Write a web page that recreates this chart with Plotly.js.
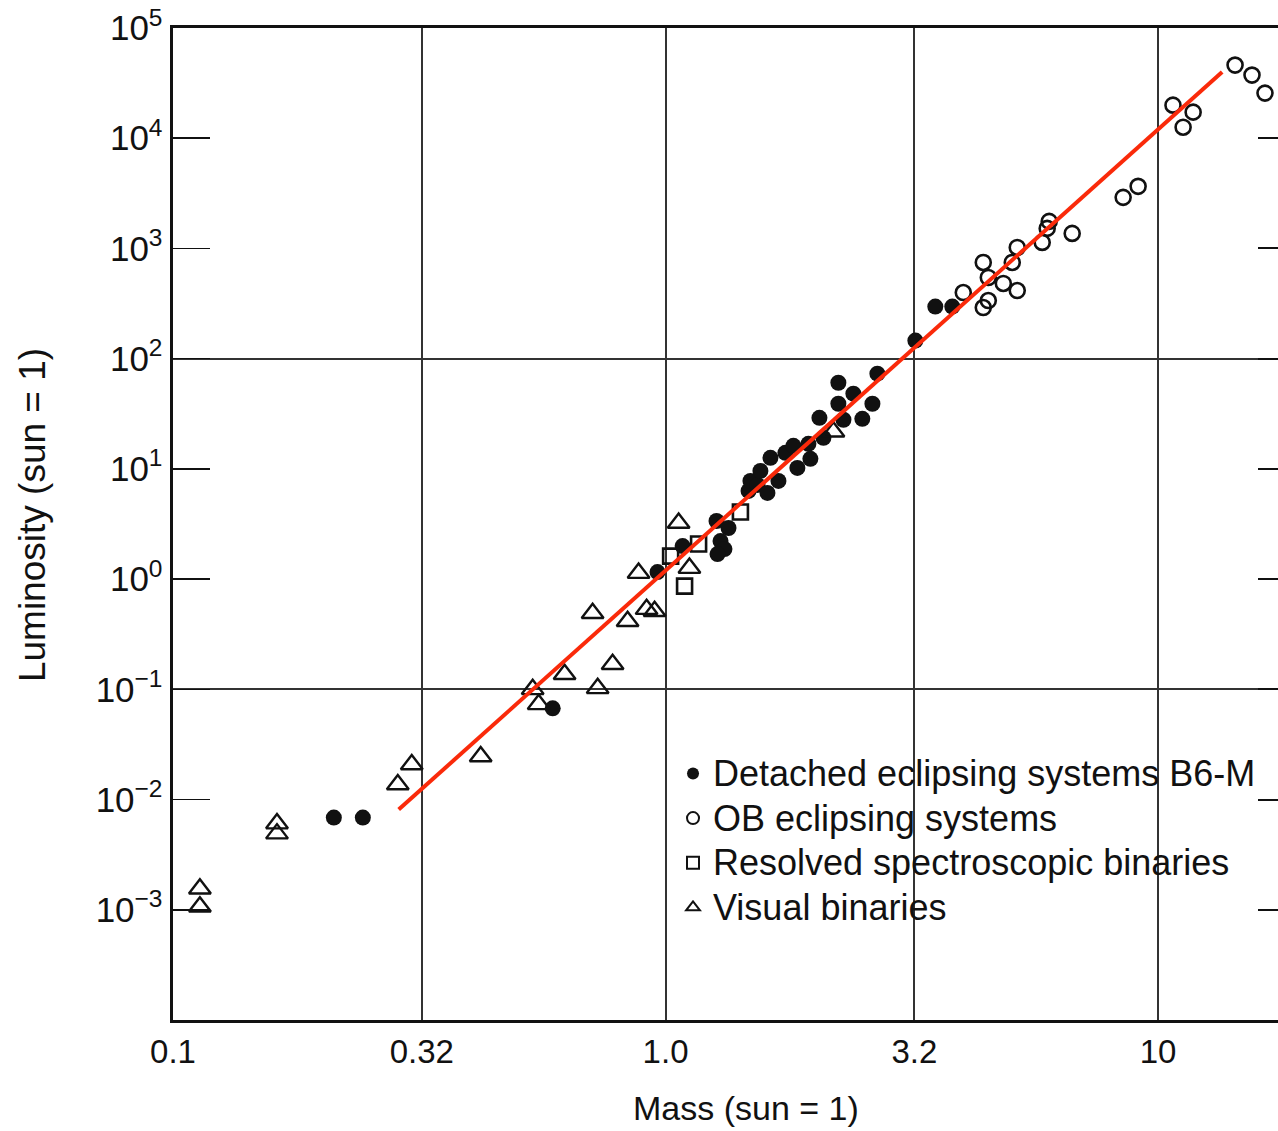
<!DOCTYPE html>
<html>
<head>
<meta charset="utf-8">
<script src="https://cdn.plot.ly/plotly-3.0.1.min.js"></script>
<style>
  html, body { margin: 0; padding: 0; background: #ffffff; overflow: hidden; }
  #chart { width: 1278px; height: 1131px; }
</style>
</head>
<body>
<div id="chart"></div>
<script>
// Mass–luminosity relation for main-sequence stars in binary systems (solar units)

// Detached eclipsing systems, spectral types B6–M
const detachedMass = [0.2121, 0.2429, 0.590, 0.963, 1.083, 1.269, 1.342, 1.293, 1.317, 1.275,
  1.474, 1.487, 1.537, 1.558, 1.633, 1.610, 1.695, 1.751, 1.818, 1.852,
  1.950, 1.968, 2.053, 2.092, 2.243, 2.406, 2.243, 2.630, 2.297, 2.509,
  2.692, 3.215, 3.529, 3.821];
const detachedLum = [0.00686, 0.00686, 0.0672, 1.158, 1.995, 3.365, 2.908, 2.215, 1.874, 1.688,
  6.31, 7.78, 7.15, 9.59, 12.59, 6.05, 7.78, 13.98, 16.19, 10.21,
  16.88, 12.33, 29.08, 19.13, 60.5, 48.1, 38.98, 38.98, 27.9, 28.48,
  73.05, 145.8, 297, 297];

// OB eclipsing systems
const obMass = [4.022, 4.416, 4.521, 4.416, 4.521, 4.850, 5.176, 5.057, 5.176, 5.817,
  5.954, 6.010, 6.692, 8.492, 9.108, 10.72, 11.78, 11.24, 14.33, 15.51, 16.48];
const obLum = [398, 746, 545, 291, 337, 481, 415, 746, 1021, 1134,
  1520, 1760, 1369, 2908, 3660, 19950, 17240, 12590, 46080, 37390, 25660];

// Resolved spectroscopic binaries
const specMass = [1.024, 1.093, 1.167, 1.419];
const specLum = [1.618, 0.864, 2.081, 4.066];

// Visual binaries
const visualMass = [0.1134, 0.1134, 0.1626, 0.1626, 0.2860, 0.3053, 0.4214, 0.5373, 0.5526, 0.6238,
  0.7281, 0.7807, 0.7111, 0.8374, 0.9152, 0.9500, 0.8815, 1.063, 1.118, 2.192];
const visualLum = [0.001552, 0.001065, 0.006053, 0.004909, 0.01369, 0.02081, 0.0246, 0.100, 0.0731, 0.1369,
  0.1021, 0.1688, 0.4908, 0.4150, 0.5337, 0.5117, 1.134, 3.229, 1.259, 21.70];

// Power-law fit (L ∝ M^4) drawn between its two end points
const fitMass = [0.2872, 13.49];
const fitLum = [0.00811, 39810];

// Series names shown in the key
const seriesNames = [
  'Detached eclipsing systems B6-M',
  'OB eclipsing systems',
  'Resolved spectroscopic binaries',
  'Visual binaries'
];

// Axis ticks
const massTicks = [0.1, 0.32, 1.0, 3.2, 10];
const massTickText = ['0.1', '0.32', '1.0', '3.2', '10'];
const lumExponents = [-3, -2, -1, 0, 1, 2, 3, 4, 5];
const lumGridValues = [0.1, 100];

const lumTicks = lumExponents.map(e => Math.pow(10, e));
const lumTickText = lumExponents.map(e => '10<sup>' + (e < 0 ? '\u2212' + (-e) : e) + '</sup>');
const rightTicks = lumTicks.filter(v => v < 1e5);

const FONT = '"Liberation Sans", Arial, "DejaVu Sans", sans-serif';
const INK = '#111111';

// key entries are set a little larger than the row pitch of the key
const keyName = s => '<span style="font-size:36px">' + s + '</span>';

const traces = [
  {
    x: detachedMass, y: detachedLum, type: 'scatter', mode: 'markers',
    name: keyName(seriesNames[0]),
    marker: { symbol: 'circle', size: 16, color: INK, line: { width: 0 } }
  },
  {
    x: obMass, y: obLum, type: 'scatter', mode: 'markers',
    name: keyName(seriesNames[1]),
    marker: { symbol: 'circle-open', size: 15, color: INK, line: { width: 2.6, color: INK } }
  },
  {
    x: specMass, y: specLum, type: 'scatter', mode: 'markers',
    name: keyName(seriesNames[2]),
    marker: { symbol: 'square-open', size: 15, color: INK, line: { width: 2.6, color: INK } }
  },
  {
    x: visualMass, y: visualLum, type: 'scatter', mode: 'markers',
    name: keyName(seriesNames[3]),
    marker: { symbol: 'triangle-up-open', size: 19, color: INK, line: { width: 2.4, color: INK } }
  },
  {
    x: fitMass, y: fitLum, type: 'scatter', mode: 'lines',
    showlegend: false, hoverinfo: 'skip',
    line: { color: '#fa2a0a', width: 4 }
  }
];

const layout = {
  width: 1278,
  height: 1131,
  margin: { l: 173, r: 0, t: 28, b: 111, pad: 0 },
  paper_bgcolor: '#ffffff',
  plot_bgcolor: '#ffffff',
  font: { family: FONT, color: INK },
  showlegend: true,
  legend: {
    x: 0.4525, xanchor: 'left',
    y: 0.276, yanchor: 'top',
    bgcolor: 'rgba(0,0,0,0)',
    borderwidth: 0,
    itemsizing: 'constant',
    font: { family: FONT, size: 32, color: INK },
    tracegroupgap: 0
  },
  xaxis: {
    type: 'log',
    range: [-1, 1.2434],
    tickmode: 'array',
    tickvals: massTicks,
    ticktext: massTickText,
    ticks: '',
    showgrid: true,
    gridcolor: '#333333',
    gridwidth: 2,
    showline: true,
    linecolor: INK,
    linewidth: 3,
    mirror: true,
    zeroline: false,
    tickfont: { family: FONT, size: 33, color: INK },
    ticklabelstandoff: 0
  },
  yaxis: {
    type: 'log',
    range: [-4, 5],
    tickmode: 'array',
    tickvals: lumTicks,
    ticktext: lumTickText,
    ticks: 'inside',
    ticklen: 37,
    tickwidth: 1.6,
    tickcolor: INK,
    showgrid: false,
    showline: true,
    linecolor: INK,
    linewidth: 3.5,
    zeroline: false,
    tickfont: { family: FONT, size: 35, color: INK }
  },
  yaxis2: {
    type: 'log',
    range: [-4, 5],
    overlaying: 'y',
    side: 'right',
    tickmode: 'array',
    tickvals: rightTicks,
    ticks: 'inside',
    ticklen: 20,
    tickwidth: 2,
    tickcolor: INK,
    showticklabels: false,
    showgrid: false,
    showline: false,
    zeroline: false
  },
  yaxis3: {
    type: 'log',
    range: [-4, 5],
    overlaying: 'y',
    side: 'left',
    tickmode: 'array',
    tickvals: lumGridValues,
    ticks: '',
    showticklabels: false,
    showgrid: true,
    gridcolor: '#333333',
    gridwidth: 2,
    showline: false,
    zeroline: false
  },
  annotations: [
    {
      text: 'Mass (sun = 1)',
      xref: 'paper', yref: 'paper',
      x: 0.5186, y: -0.089,
      xanchor: 'center', yanchor: 'middle',
      showarrow: false,
      font: { family: FONT, size: 34, color: INK }
    },
    {
      text: 'Luminosity (sun = 1)',
      xref: 'paper', yref: 'paper',
      x: -0.1276, y: 0.509,
      xanchor: 'center', yanchor: 'middle',
      textangle: -90,
      showarrow: false,
      font: { family: FONT, size: 37, color: INK }
    }
  ]
};

// the two extra y axes only carry ticks and grid lines; bind an empty trace to each
traces.push({ x: [], y: [], type: 'scatter', yaxis: 'y2', showlegend: false, hoverinfo: 'skip' });
traces.push({ x: [], y: [], type: 'scatter', yaxis: 'y3', showlegend: false, hoverinfo: 'skip' });

Plotly.newPlot('chart', traces, layout, { displayModeBar: false, staticPlot: true });
</script>
</body>
</html>
